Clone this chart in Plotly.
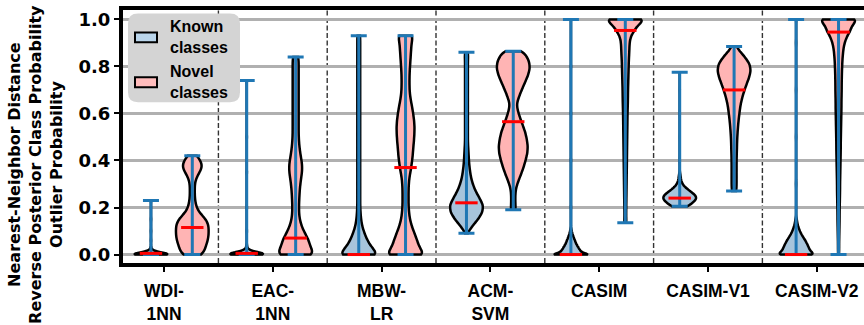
import numpy as np
import plotly.graph_objects as go

# ---------------- data ----------------
methods = ["WDI-<br>1NN", "EAC-<br>1NN", "MBW-<br>LR", "ACM-<br>SVM", "CASIM", "CASIM-V1", "CASIM-V2"]
positions = [1, 2, 3, 4, 5, 6, 7]

known_median = [0.005, 0.005, 0.0, 0.22, 0.0, 0.24, 0.0]
known_min = [0.0, 0.0, 0.0, 0.09, 0.0, 0.205, 0.0]
known_max = [0.23, 0.74, 0.93, 0.86, 1.0, 0.775, 1.0]
novel_median = [0.115, 0.07, 0.37, 0.565, 0.953, 0.70, 0.946]
novel_min = [0.0, 0.0, 0.0, 0.19, 0.135, 0.27, 0.0]
novel_max = [0.42, 0.84, 0.93, 0.865, 1.0, 0.885, 1.0]

# distribution of scores for each violin: score levels and how many samples sit at each
wdi_known_levels = [0.0, 0.005, 0.01, 0.015, 0.02, 0.03, 0.06, 0.10, 0.15, 0.23]
wdi_known_counts = [60, 25, 12, 6, 3, 1, 1, 1, 1, 1]
wdi_novel_levels = [0.0, 0.02, 0.04, 0.06, 0.08, 0.10, 0.12, 0.14, 0.16, 0.18, 0.20,
                    0.22, 0.24, 0.26, 0.28, 0.30, 0.32, 0.34, 0.36, 0.38, 0.40, 0.42]
wdi_novel_counts = [14, 15, 17, 19, 20, 20, 20, 19, 14, 8, 5, 4, 3, 3, 3, 3, 4, 7, 11, 13, 10, 6]

eac_known_levels = [0.0, 0.005, 0.01, 0.015, 0.02, 0.03, 0.04, 0.10, 0.20, 0.35, 0.50, 0.74]
eac_known_counts = [60, 28, 14, 7, 4, 2, 1, 1, 1, 1, 1, 1]
eac_novel_levels = [0.0, 0.03, 0.06, 0.09, 0.12, 0.15, 0.18, 0.21, 0.24, 0.27, 0.30, 0.33,
                    0.36, 0.39, 0.42, 0.45, 0.48, 0.51, 0.54, 0.57, 0.60, 0.63, 0.66, 0.69,
                    0.72, 0.75, 0.78, 0.81, 0.84]
eac_novel_counts = [60, 44, 40, 28, 18, 12, 10, 10, 11, 12, 14, 17, 20, 19, 15, 12, 10,
                    9, 9, 9, 9, 9, 9, 9, 9, 9, 9, 9, 9]

mbw_levels = [0.0, 0.03, 0.06, 0.09, 0.12, 0.15, 0.18, 0.21, 0.24, 0.27, 0.30, 0.33,
              0.36, 0.39, 0.42, 0.45, 0.48, 0.51, 0.54, 0.57, 0.60, 0.63, 0.66, 0.69,
              0.72, 0.75, 0.78, 0.81, 0.84, 0.87, 0.90, 0.93]
mbw_known_counts = [70, 45, 30, 20, 12, 8, 6, 5, 5, 5, 5, 5, 5, 5, 5, 5, 5, 5, 5, 5,
                    5, 5, 5, 5, 5, 5, 5, 5, 5, 5, 5, 5]
mbw_novel_counts = [85, 60, 50, 39, 27, 19, 15, 13, 13, 13, 14, 17, 23, 27, 31, 33, 36,
                    38, 39, 37, 33, 28, 22, 18, 17, 17, 18, 20, 22, 24, 26, 33]

acm_known_levels = [0.09, 0.12, 0.15, 0.18, 0.21, 0.24, 0.27, 0.30, 0.33, 0.36, 0.39, 0.42,
                    0.45, 0.48, 0.51, 0.54, 0.57, 0.60, 0.63, 0.66, 0.69, 0.72, 0.75, 0.78,
                    0.81, 0.84, 0.86]
acm_known_counts = [6, 44, 90, 124, 130, 100, 70, 48, 34, 26, 20, 17, 14, 11, 11, 11, 11,
                    11, 11, 11, 11, 11, 11, 11, 11, 11, 8]
acm_novel_levels = [0.19, 0.22, 0.25, 0.28, 0.31, 0.34, 0.37, 0.40, 0.43, 0.46, 0.49, 0.52,
                    0.55, 0.58, 0.61, 0.64, 0.67, 0.70, 0.73, 0.76, 0.79, 0.82, 0.85, 0.865]
acm_novel_counts = [10, 8, 8, 10, 19, 30, 40, 48, 55, 57, 53, 47, 37, 27, 18, 13, 22, 33,
                    45, 57, 65, 63, 47, 9]

casim_known_levels = [0.0, 0.01, 0.02, 0.03, 0.04, 0.05, 0.06, 0.07, 0.08, 0.09, 0.10, 0.11,
                      0.2, 0.4, 0.6, 0.8, 1.0]
casim_known_counts = [93, 54, 44, 37, 30, 24, 20, 15, 11, 7, 4, 2, 1, 1, 1, 1, 1]
casim_novel_levels = [1.0, 0.975, 0.95, 0.925, 0.9, 0.875, 0.85, 0.825, 0.8, 0.775, 0.75,
                      0.725, 0.7, 0.675, 0.65, 0.625, 0.6, 0.575, 0.55, 0.525, 0.5, 0.475,
                      0.45, 0.425, 0.4, 0.375, 0.35, 0.325, 0.3, 0.275, 0.25, 0.225, 0.2,
                      0.175, 0.15, 0.135]
casim_novel_counts = [255, 156, 108, 66, 54, 51, 48, 44, 42, 40, 38, 36, 34, 33, 32, 30, 28,
                      27, 26, 25, 24, 23, 22, 21, 20, 19, 18, 17, 16, 15, 14, 13, 12, 11, 10, 9]

v1_known_levels = [0.205, 0.22, 0.235, 0.25, 0.265, 0.28, 0.295, 0.31, 0.325, 0.34,
                   0.4, 0.5, 0.6, 0.7, 0.775]
v1_known_counts = [60, 90, 120, 116, 84, 50, 24, 12, 8, 5, 1, 1, 1, 1, 1]
v1_novel_levels = [0.27, 0.30, 0.33, 0.36, 0.39, 0.42, 0.45, 0.48, 0.51, 0.54, 0.57, 0.60,
                   0.63, 0.66, 0.69, 0.72, 0.75, 0.78, 0.81, 0.84, 0.87, 0.885]
v1_novel_counts = [19, 20, 20, 20, 20, 21, 23, 24, 27, 31, 36, 43, 50, 62, 78, 98, 120,
                   136, 128, 88, 36, 2]

v2_known_levels = [0.0, 0.015, 0.03, 0.045, 0.06, 0.075, 0.09, 0.105, 0.12, 0.135, 0.15,
                   0.3, 0.5, 0.7, 0.9, 1.0]
v2_known_counts = [85, 61, 55, 48, 40, 30, 21, 14, 9, 5, 3, 1, 1, 1, 1, 1]
v2_novel_levels = [1.0, 0.975, 0.95, 0.925, 0.9, 0.875, 0.85, 0.825, 0.8, 0.775, 0.75,
                   0.725, 0.7, 0.675, 0.65, 0.625, 0.6, 0.575, 0.55, 0.525, 0.5, 0.475,
                   0.45, 0.425, 0.4, 0.375, 0.35, 0.325, 0.3, 0.275, 0.25, 0.225, 0.2,
                   0.175, 0.15, 0.125, 0.1, 0.075, 0.05, 0.025, 0.0]
v2_novel_counts = [171, 116, 100, 70, 52, 42, 37, 33, 31, 29, 28, 27, 27, 26, 25, 25, 24,
                   23, 22, 21, 20, 19, 19, 18, 17, 16, 15, 14, 13, 13, 12, 11, 10, 9, 9,
                   8, 7, 6, 5, 5, 4]

known_bandwidth = [0.006, 0.007, 0.018, 0.018, 0.005, 0.01, 0.009]
novel_bandwidth = [0.018, 0.02, 0.018, 0.018, 0.015, 0.018, 0.015]

known_dists = [(wdi_known_levels, wdi_known_counts), (eac_known_levels, eac_known_counts),
               (mbw_levels, mbw_known_counts), (acm_known_levels, acm_known_counts),
               (casim_known_levels, casim_known_counts), (v1_known_levels, v1_known_counts),
               (v2_known_levels, v2_known_counts)]
novel_dists = [(wdi_novel_levels, wdi_novel_counts), (eac_novel_levels, eac_novel_counts),
               (mbw_levels, mbw_novel_counts), (acm_novel_levels, acm_novel_counts),
               (casim_novel_levels, casim_novel_counts), (v1_novel_levels, v1_novel_counts),
               (v2_novel_levels, v2_novel_counts)]

# ---------------- layout / style ----------------
# horizontal offsets of the two violins from each group's tick (x units)
known_offset = [-0.12, -0.24, -0.21, -0.22, -0.26, -0.26, -0.19]
novel_offset = [0.26, 0.21, 0.22, 0.21, 0.24, 0.24, 0.20]

FONT = "Liberation Sans, Arial, Helvetica, sans-serif"
FONT2 = "DejaVu Sans, Verdana, sans-serif"
KNOWN_FILL = "rgb(167,196,219)"
NOVEL_FILL = "rgb(255,180,180)"
KNOWN_PATCH = "rgb(186,213,235)"
NOVEL_PATCH = "rgb(255,188,188)"
WHISKER = "#1f77b4"

W, H = 864, 325
ML, MR, MT, MB = 123, 0, 9.5, 61.5
PW, PH = W - ML - MR, H - MT - MB


def px(xp):
    return (xp - ML) / PW


def py(yp):
    return (H - MB - yp) / PH


fig = go.Figure()

for dists, bws, offs, fill in [(known_dists, known_bandwidth, known_offset, KNOWN_FILL),
                               (novel_dists, novel_bandwidth, novel_offset, NOVEL_FILL)]:
    for pos, (lv, ct), bw, off in zip(positions, dists, bws, offs):
        samples = np.repeat(np.array(lv, dtype=float), np.array(ct, dtype=int))
        fig.add_trace(go.Violin(
            x0=pos + off, y=samples, width=0.3, bandwidth=bw, spanmode="hard",
            scalemode="width", side="both", points=False,
            box=dict(visible=False), meanline=dict(visible=False),
            fillcolor=fill, line=dict(color="black", width=2.5), opacity=1,
            showlegend=False, hoverinfo="skip"))

for offs, med, mn, mx in [(known_offset, known_median, known_min, known_max),
                          (novel_offset, novel_median, novel_min, novel_max)]:
    fig.add_trace(go.Scatter(
        x=[p + o for p, o in zip(positions, offs)], y=med, mode="markers",
        marker=dict(symbol="line-ew", size=16, color="red", line=dict(color="red", width=3)),
        error_y=dict(type="data", symmetric=False,
                     array=[b - a for a, b in zip(med, mx)],
                     arrayminus=[a - b for a, b in zip(med, mn)],
                     color=WHISKER, thickness=3, width=8),
        showlegend=False, hoverinfo="skip"))

shapes = []
for p in positions[:-1]:
    shapes.append(dict(type="line", xref="x", yref="paper", x0=p + 0.5, x1=p + 0.5, y0=0, y1=1,
                       line=dict(color="#333333", width=1.4, dash="5px,2.5px"), layer="between"))

# legend box (rounded)
bx0, bx1, by0, by1, r = 128, 240, 13, 102, 10
pts = lambda x, y: f"{px(x):.5f},{py(y):.5f}"
path = (f"M {pts(bx0 + r, by0)} L {pts(bx1 - r, by0)} Q {pts(bx1, by0)} {pts(bx1, by0 + r)} "
        f"L {pts(bx1, by1 - r)} Q {pts(bx1, by1)} {pts(bx1 - r, by1)} "
        f"L {pts(bx0 + r, by1)} Q {pts(bx0, by1)} {pts(bx0, by1 - r)} "
        f"L {pts(bx0, by0 + r)} Q {pts(bx0, by0)} {pts(bx0 + r, by0)} Z")
shapes.append(dict(type="path", xref="paper", yref="paper", path=path,
                   fillcolor="rgb(212,212,212)", line=dict(width=0), layer="above"))
for yc, col in [(37, KNOWN_PATCH), (82, NOVEL_PATCH)]:
    shapes.append(dict(type="rect", xref="paper", yref="paper", x0=px(135), x1=px(157),
                       y0=py(yc - 5), y1=py(yc + 5), fillcolor=col,
                       line=dict(color="black", width=2), layer="above"))

lab_font = dict(family=FONT, size=16, color="black", weight="bold")
annotations = [
    dict(text="Known<br>classes", xref="paper", yref="paper", x=px(168), y=py(37),
         xanchor="left", yanchor="middle", align="left", showarrow=False, font=lab_font),
    dict(text="Novel<br>classes", xref="paper", yref="paper", x=px(168), y=py(82),
         xanchor="left", yanchor="middle", align="left", showarrow=False, font=lab_font),
]
title_lines = ["Nearest-Neighbor Distance", "Reverse Posterior Class Probability",
               "Outlier Probability"]
for line, xc in zip(title_lines, [15, 36, 57]):
    annotations.append(dict(
        text=line, xref="paper", yref="paper", x=px(xc), y=py(165), xanchor="center",
        yanchor="middle", textangle=-90, showarrow=False,
        font=dict(family=FONT2, size=16, color="black", weight="bold")))

fig.update_layout(
    width=W, height=H, margin=dict(l=ML, r=MR, t=MT, b=MB, pad=0, autoexpand=False),
    plot_bgcolor="white", paper_bgcolor="white", violinmode="overlay",
    font=dict(family=FONT, color="black"),
    shapes=shapes, annotations=annotations, showlegend=False,
    xaxis=dict(type="linear", range=[0.623, 7.434], tickmode="array", tickvals=positions,
               ticktext=methods, showgrid=False, zeroline=False, showline=True,
               linecolor="black", linewidth=4, mirror=True, ticks="outside", ticklen=5,
               tickwidth=2, tickcolor="black", ticklabelstandoff=4, automargin=False,
               tickfont=dict(family=FONT, size=17.5, color="black", weight="bold")),
    yaxis=dict(range=[-0.036, 1.040], tickmode="array", tickvals=[0, 0.2, 0.4, 0.6, 0.8, 1.0],
               tickformat=".1f", showgrid=True, gridcolor="#b0b0b0", gridwidth=2.5,
               zeroline=False, showline=True, linecolor="black", linewidth=4, mirror=False,
               ticks="outside", ticklen=5, tickwidth=2, tickcolor="black", automargin=False,
               tickfont=dict(family=FONT2, size=18, color="black", weight="bold")),
)

fig.write_html("out.html")
